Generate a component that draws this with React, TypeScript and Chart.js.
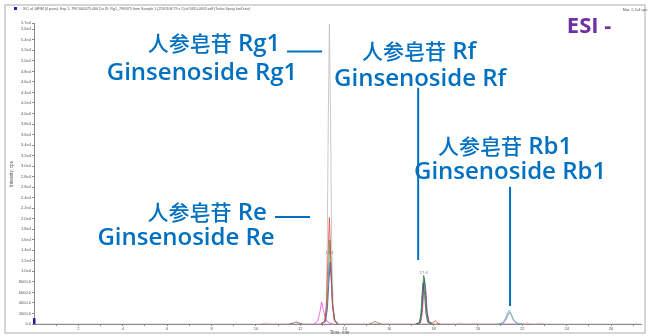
import React, { useEffect, useRef } from 'react';
import { Chart, registerables } from 'chart.js';

Chart.register(...registerables);

// ---------- axis ticks ----------
const xTickValues = [1, 2, 3, 4, 5, 6, 7, 8, 9, 10, 11, 12, 13, 14, 15, 16, 17, 18, 19, 20, 21, 22, 23, 24, 25, 26, 27];
const xTickLabels = ['', '2', '', '4', '', '6', '', '8', '', '10', '', '12', '', '14', '', '16', '', '18', '', '20', '', '22', '', '24', '', '26', ''];
const yTickValues = [0, 2000, 4000, 6000, 8000, 10000, 12000, 14000, 16000, 18000, 20000, 22000, 24000, 26000, 28000, 30000, 32000, 34000, 36000, 38000, 40000, 42000, 44000, 46000, 48000, 50000, 52000, 54000, 56000, 57200];
const yTickLabels = ['0.0', '2000.0', '4000.0', '6000.0', '8000.0', '1.0e4', '1.2e4', '1.4e4', '1.6e4', '1.8e4', '2.0e4', '2.2e4', '2.4e4', '2.6e4', '2.8e4', '3.0e4', '3.2e4', '3.4e4', '3.6e4', '3.8e4', '4.0e4', '4.2e4', '4.4e4', '4.6e4', '4.8e4', '5.0e4', '5.2e4', '5.4e4', '5.6e4', '5.7e4'];
const xMax = 27.35;
const yMax = 57200;

// ---------- chromatogram traces (time, min / intensity, cps) ----------
const rg1Time = [0, 12.95, 13.08, 13.16, 13.21, 13.26, 13.31, 13.36, 13.41, 13.47, 13.55, 13.7, 27.35];
const rg1Intensity = [0, 0, 400, 3000, 14000, 39000, 57000, 40000, 16000, 4000, 800, 0, 0];

const reRedTime = [12.9, 13.1, 13.18, 13.24, 13.31, 13.37, 13.43, 13.52, 13.65];
const reRedIntensity = [0, 500, 4000, 12000, 20200, 13000, 4500, 800, 0];
const reGreenTime = [12.95, 13.12, 13.2, 13.27, 13.33, 13.39, 13.45, 13.54, 13.7];
const reGreenIntensity = [0, 600, 3500, 9500, 16000, 10500, 3800, 700, 0];
const reBlueTime = [12.95, 13.14, 13.22, 13.28, 13.34, 13.4, 13.47, 13.56, 13.72];
const reBlueIntensity = [0, 500, 3000, 7500, 11700, 8000, 3000, 600, 0];
const magentaTime = [12.6, 12.78, 12.88, 12.96, 13.04, 13.14, 13.26, 13.45];
const magentaIntensity = [0, 500, 2200, 4200, 2600, 900, 300, 0];

const rfGreenTime = [17.2, 17.38, 17.45, 17.5, 17.56, 17.62, 17.68, 17.76, 17.92];
const rfGreenIntensity = [0, 300, 2500, 6500, 9300, 6800, 2600, 500, 0];
const rfBlueTime = [17.22, 17.4, 17.47, 17.53, 17.58, 17.64, 17.7, 17.78, 17.95];
const rfBlueIntensity = [0, 300, 2300, 6000, 8800, 6400, 2400, 450, 0];
const rfRedTime = [17.25, 17.42, 17.5, 17.55, 17.6, 17.66, 17.72, 17.8, 17.98];
const rfRedIntensity = [0, 250, 2200, 5800, 8300, 6000, 2200, 400, 0];
const rfDarkTime = [17.2, 17.37, 17.44, 17.49, 17.54, 17.6, 17.66, 17.74, 17.9];
const rfDarkIntensity = [0, 250, 2000, 5400, 7800, 5600, 2000, 350, 0];

const rb1CyanTime = [20.9, 21.12, 21.24, 21.33, 21.41, 21.49, 21.58, 21.72, 21.95];
const rb1CyanIntensity = [0, 250, 1100, 2100, 2600, 2000, 900, 200, 0];
const rb1LavenderTime = [20.92, 21.14, 21.26, 21.34, 21.42, 21.5, 21.6, 21.74, 21.98];
const rb1LavenderIntensity = [0, 200, 1000, 1900, 2300, 1800, 800, 150, 0];
const rb1GrayTime = [20.95, 21.16, 21.28, 21.36, 21.44, 21.52, 21.62, 21.76, 22.0];
const rb1GrayIntensity = [0, 200, 900, 1700, 2100, 1600, 700, 150, 0];

const noiseDarkTime = [11.5, 11.7, 11.8, 11.9, 12.1];
const noiseDarkIntensity = [0, 200, 400, 250, 0];
const noiseBrownTime = [15.1, 15.28, 15.36, 15.45, 15.65];
const noiseBrownIntensity = [0, 300, 550, 300, 0];
const noiseRedTime = [17.9, 18.0, 18.08, 18.16, 18.3];
const noiseRedIntensity = [0, 300, 650, 250, 0];
const noisePinkTime = [10.2, 10.4, 10.6, 19.0, 19.2, 19.4, 19.7, 19.9, 20.1, 22.0, 22.2, 22.4, 22.6, 22.8, 23.0];
const noisePinkIntensity = [0, 150, 0, 0, 180, 0, 0, 150, 0, 0, 160, 0, 0, 140, 0];

// peak apex labels
const peakLabelText = ['13.3', '17.6'];
const peakLabelTime = [13.31, 17.56];
const peakLabelIntensity = [13100, 9300];

// ---------- annotation content ----------
const annotationLines1 = ['人参皂苷 Rg1', '人参皂苷 Re', '人参皂苷 Rf', '人参皂苷 Rb1'];
const annotationLines2 = ['Ginsenoside Rg1', 'Ginsenoside Re', 'Ginsenoside Rf', 'Ginsenoside Rb1'];
const headerText = 'XIC of -MRM (4 pairs): Exp 1, 799.500/475.400 Da ID: Rg1_799/475 from Sample 1 (2590108 T9 x 5) of 5810-0605.wiff (Turbo Spray IonDrive)';
const maxText = 'Max. 5.7e4 cps.';

function pts(t: number[], v: number[]) {
  return t.map((tt, i) => ({ x: tt, y: v[i] }));
}

const BLUE = '#0070C0';
const CJK_FONT = '500 21px "Noto Sans CJK SC"';
const LAT_FONT = '600 24px "Open Sans"';

function drawMixed(ctx: CanvasRenderingContext2D, text: string, cx: number, cy: number) {
  const runs: { s: string; cjk: boolean }[] = [];
  const re = /([\u4e00-\u9fff]+)|([^\u4e00-\u9fff]+)/g;
  let m;
  while ((m = re.exec(text))) {
    runs.push({ s: m[0], cjk: !!m[1] });
  }
  let total = 0;
  const widths = runs.map((r) => {
    ctx.font = r.cjk ? CJK_FONT : LAT_FONT;
    const w = ctx.measureText(r.s).width;
    total += w;
    return w;
  });
  let x = cx - total / 2;
  ctx.textAlign = 'left';
  ctx.textBaseline = 'alphabetic';
  runs.forEach((r, i) => {
    ctx.font = r.cjk ? CJK_FONT : LAT_FONT;
    ctx.fillText(r.s, x, cy + 8.5);
    x += widths[i];
  });
}

const framePlugin = {
  id: 'frame',
  beforeDraw(chart: any) {
    const { ctx } = chart;
    ctx.save();
    ctx.fillStyle = '#ffffff';
    ctx.fillRect(0, 0, chart.width, chart.height);
    ctx.strokeStyle = '#c8c8c8';
    ctx.lineWidth = 1.5;
    ctx.strokeRect(5, 5, 640, 328);
    // header
    ctx.fillStyle = '#2020c0';
    ctx.fillRect(14, 7, 3, 3);
    ctx.fillStyle = '#555';
    ctx.font = '3.6px "Liberation Sans"';
    ctx.textBaseline = 'middle';
    ctx.textAlign = 'left';
    ctx.fillText(headerText, 23, 9);
    ctx.textAlign = 'right';
    ctx.fillText(maxText, 648, 10);
    ctx.restore();
  },
  afterDraw(chart: any) {
    const { ctx, scales } = chart;
    const x = scales.x;
    const y = scales.y;
    ctx.save();
    // axis titles
    ctx.fillStyle = '#555';
    ctx.font = '4.5px "Liberation Sans"';
    ctx.textAlign = 'center';
    ctx.textBaseline = 'middle';
    ctx.fillText('Time, min', (x.left + x.right) / 2 + 2, 333);
    ctx.translate(12, 174);
    ctx.rotate(-Math.PI / 2);
    ctx.fillText('Intensity, cps', 0, 0);
    ctx.restore();

    ctx.save();
    // origin marker
    ctx.fillStyle = '#1a1aa0';
    const x0 = x.getPixelForValue(0);
    ctx.fillRect(x0 - 1, y.getPixelForValue(1100), 2.5, y.getPixelForValue(0) - y.getPixelForValue(1100));
    // peak labels
    ctx.fillStyle = '#777';
    ctx.font = '4px "Liberation Sans"';
    ctx.textAlign = 'center';
    ctx.textBaseline = 'bottom';
    peakLabelText.forEach((s, i) => {
      ctx.fillText(s, x.getPixelForValue(peakLabelTime[i]), y.getPixelForValue(peakLabelIntensity[i]));
    });

    // annotations (anchored in data units)
    const P = (t: number, v: number) => [x.getPixelForValue(t), y.getPixelForValue(v)];
    ctx.strokeStyle = BLUE;
    ctx.lineWidth = 2;
    const seg = (a: number[], b: number[]) => {
      ctx.beginPath();
      ctx.moveTo(a[0], a[1]);
      ctx.lineTo(b[0], b[1]);
      ctx.stroke();
    };
    seg(P(11.40, 51790), P(12.98, 51790));
    seg(P(10.86, 20350), P(12.44, 20350));
    seg(P(17.31, 44890), P(17.31, 12170));
    seg(P(21.45, 26060), P(21.45, 3420));

    ctx.fillStyle = BLUE;
    const textPos1 = [[8.11, 53450], [7.80, 21300], [17.35, 51920], [21.23, 33860]];
    const textPos2 = [[7.57, 47930], [6.85, 16550], [17.40, 46790], [21.45, 29100]];
    annotationLines1.forEach((s, i) => {
      const p = P(textPos1[i][0], textPos1[i][1]);
      drawMixed(ctx, s, p[0], p[1]);
    });
    annotationLines2.forEach((s, i) => {
      const p = P(textPos2[i][0], textPos2[i][1]);
      drawMixed(ctx, s, p[0], p[1]);
    });

    ctx.fillStyle = '#7030A0';
    ctx.font = 'bold 22px "Open Sans"';
    ctx.textAlign = 'center';
    ctx.textBaseline = 'middle';
    const e = P(25.01, 56490);
    ctx.fillText('ESI -', e[0], e[1]);
    ctx.restore();
  },
};

export default function App() {
  const ref = useRef<HTMLCanvasElement | null>(null);
  useEffect(() => {
    document.body.style.margin = '0';
    const canvas = ref.current;
    if (!canvas) return;
    const ds = (label: string, t: number[], v: number[], color: string, width = 0.8) => ({
      label,
      data: pts(t, v),
      borderColor: color,
      backgroundColor: color,
      borderWidth: width,
      pointRadius: 0,
      tension: 0,
      fill: false,
    });
    const chart = new Chart(canvas, {
      type: 'line',
      data: {
        datasets: [
          ds('Re red', reRedTime, reRedIntensity, '#e8413c'),
          ds('Re green', reGreenTime, reGreenIntensity, '#3a9a40'),
          ds('Re blue', reBlueTime, reBlueIntensity, '#3535d8'),
          ds('Magenta', magentaTime, magentaIntensity, '#e04de0'),
          ds('Rf green', rfGreenTime, rfGreenIntensity, '#3a9a40'),
          ds('Rf blue', rfBlueTime, rfBlueIntensity, '#3535d8'),
          ds('Rf red', rfRedTime, rfRedIntensity, '#e8413c'),
          ds('Rf dark', rfDarkTime, rfDarkIntensity, '#444444'),
          ds('Rb1 cyan', rb1CyanTime, rb1CyanIntensity, '#5fc8d0'),
          ds('Rb1 lavender', rb1LavenderTime, rb1LavenderIntensity, '#b088e0'),
          ds('Rb1 gray', rb1GrayTime, rb1GrayIntensity, '#9a9a9a'),
          ds('Noise dark', noiseDarkTime, noiseDarkIntensity, '#666666'),
          ds('Noise brown', noiseBrownTime, noiseBrownIntensity, '#a0785a'),
          ds('Noise red', noiseRedTime, noiseRedIntensity, '#e8413c'),
          ds('Noise pink', noisePinkTime, noisePinkIntensity, '#f0a0c0'),
          ds('Rg1', rg1Time, rg1Intensity, '#bdbdbd'),
        ],
      },
      options: {
        animation: false,
        responsive: false,
        maintainAspectRatio: false,
        parsing: false as any,
        normalized: true,
        layout: { padding: { left: 8, right: 9, top: 23, bottom: 0 } },
        plugins: { legend: { display: false }, tooltip: { enabled: false }, title: { display: false } },
        scales: {
          x: {
            type: 'linear',
            min: 0,
            max: xMax,
            afterFit: (s: any) => { s.height = 12; },
            afterBuildTicks: (s: any) => { s.ticks = xTickValues.map((v) => ({ value: v })); },
            border: { display: true, color: '#8a8a8a', width: 1 },
            grid: { display: true, drawOnChartArea: false, drawTicks: true, tickLength: 2, color: '#8a8a8a' },
            ticks: {
              autoSkip: false,
              maxRotation: 0,
              padding: 0,
              color: '#555',
              font: { size: 4, family: 'Liberation Sans' },
              callback: (_v: any, i: number) => xTickLabels[i],
            },
          },
          y: {
            type: 'linear',
            min: 0,
            max: yMax,
            afterFit: (s: any) => { s.width = 26; },
            afterBuildTicks: (s: any) => { s.ticks = yTickValues.map((v) => ({ value: v })); },
            border: { display: true, color: '#8a8a8a', width: 1 },
            grid: { display: true, drawOnChartArea: false, drawTicks: true, tickLength: 2, color: '#8a8a8a' },
            ticks: {
              autoSkip: false,
              padding: 1,
              color: '#555',
              font: { size: 4, family: 'Liberation Sans' },
              callback: (_v: any, i: number) => yTickLabels[i],
            },
          },
        },
      },
      plugins: [framePlugin],
    } as any);
    return () => chart.destroy();
  }, []);
  return (
    <div style={{ position: 'fixed', left: 0, top: 0, width: 650, height: 336, background: '#fff' }}>
      <canvas ref={ref} width={650} height={336} style={{ display: 'block', width: 650, height: 336 }} />
    </div>
  );
}
